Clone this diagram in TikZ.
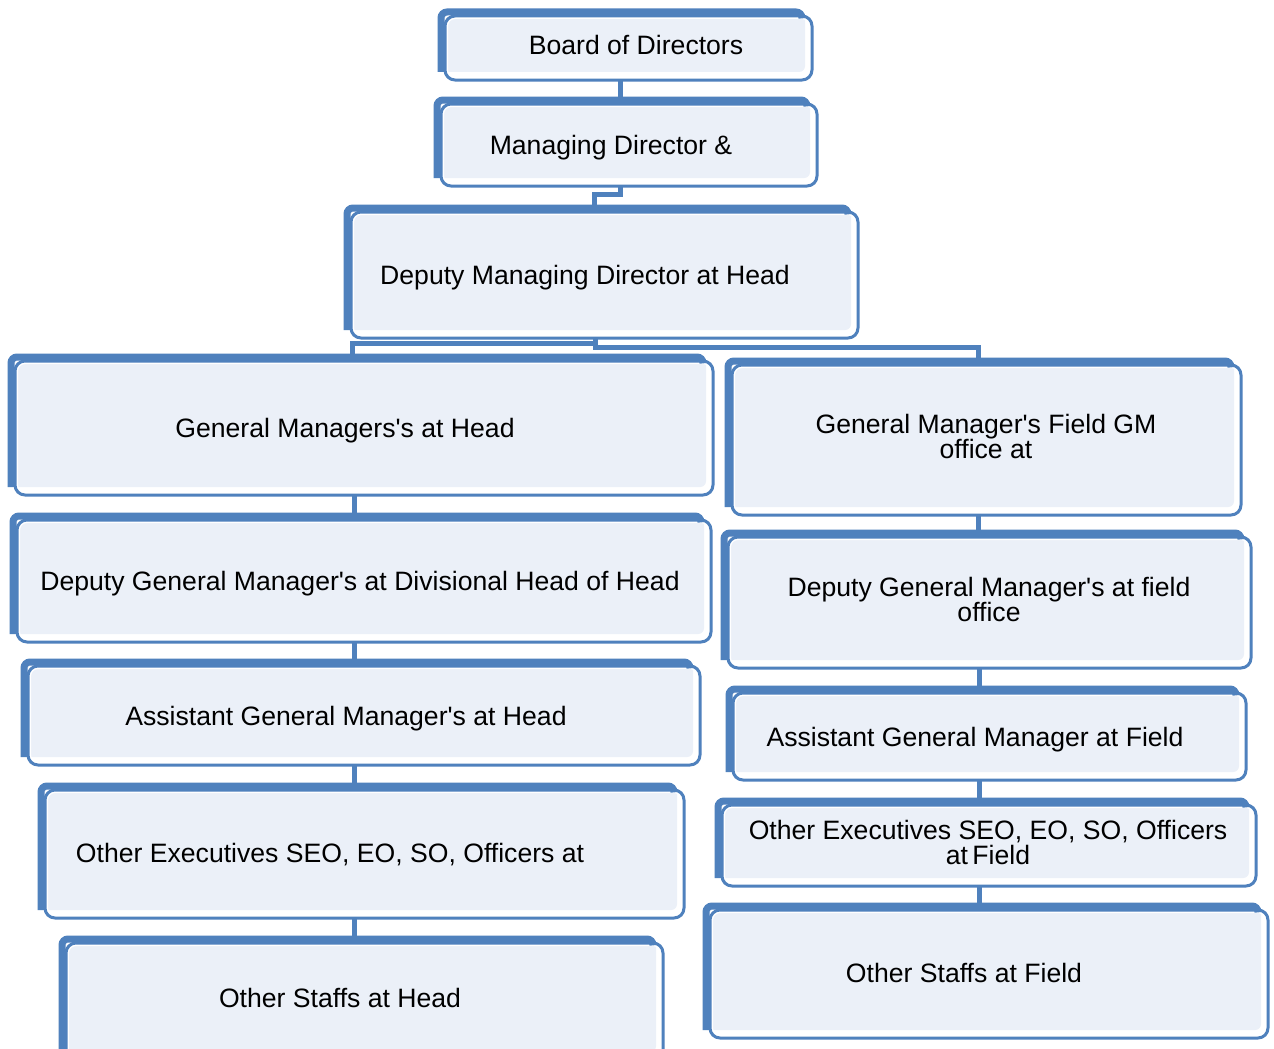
\documentclass[tikz,border=0pt]{standalone}
\usepackage{fontspec}
\setmainfont{Liberation Sans}
\usetikzlibrary{calc,fit}
\definecolor{boxblue}{RGB}{79,129,189}
\definecolor{boxfill}{RGB}{235,240,248}
\newcommand\ap{\textquotesingle}
\tikzset{
  conn/.style={draw=boxblue, line width=5},
  txt/.style={inner sep=0, align=center, font=\fontsize{26.6}{25}\selectfont, text=black},
  ltxt/.style={txt, anchor=base},
  boxarea/.style={inner sep=0, draw=none}
}
% name, x1, y1, x2, y2
\newcommand\orgbox[5]{%
  \fill[boxfill, rounded corners=6] (#2,#3) rectangle ({#4-7},{#5-8});
  \draw[white, line width=6, rounded corners=10] ({#2+4},{#3+4}) rectangle (#4,#5);
  \draw[boxblue, line width=7, rounded corners=6] (#2,{#5-8}) -- (#2,#3) -- ({#4-10},#3) -- ({#4-10},{#3+4});
  \draw[boxblue, line width=3, rounded corners=10] ({#2+4},{#3+4}) rectangle (#4,#5);
  \coordinate (#1-nw) at (#2,#3);
  \coordinate (#1-se) at (#4,#5);
  \node[boxarea, fit=(#1-nw)(#1-se)] (#1) {};
}
\begin{document}
\begin{tikzpicture}[x=1pt, y=-1pt]
\clip (0,0) rectangle (1274,1049);
\fill[white] (0,0) rectangle (1274,1049);

\orgbox{bod}{441}{12}{812}{80}
\node[ltxt] (bod-t) at (636,54.5) {Board of Directors};
\orgbox{md}{437}{100}{817}{186}
\node[ltxt] (md-t) at (611,154.5) {Managing Director \&};
\orgbox{dmd}{347}{208}{858}{338}
\node[ltxt] (dmd-t) at (585,284.5) {Deputy Managing Director at Head};

\orgbox{gmh}{11}{357}{713}{495}
\node[ltxt] (gmh-t) at (345,437.5) {General Managers\ap s at Head};
\orgbox{gmf}{728}{361}{1241}{515}
\node[txt] (gmf-t) at (986,436) {General Manager\ap s Field GM\\office at};

\orgbox{dgmh}{13}{516}{711}{642}
\node[ltxt] (dgmh-t) at (360,590.5) {Deputy General Manager\ap s at Divisional Head of Head};
\orgbox{dgmf}{724}{533}{1251}{668}
\node[txt] (dgmf-t) at (989,599) {Deputy General Manager\ap s at field\\office};

\orgbox{agmh}{24}{662}{700}{765}
\node[ltxt] (agmh-t) at (346,725.5) {Assistant General Manager\ap s at Head};
\orgbox{agmf}{729}{689}{1246}{780}
\node[ltxt] (agmf-t) at (975,746.5) {Assistant General Manager at Field};

\orgbox{oeh}{41}{786}{684}{918}
\node[ltxt] (oeh-t) at (330,862.5) {Other Executives SEO, EO, SO, Officers at};
\orgbox{oef}{718}{801}{1256}{886}
\node[txt] (oef-t) at (988,842) {Other Executives SEO, EO, SO, Officers\\at\,Field};

\orgbox{osh}{62}{939}{663}{1060}
\node[ltxt] (osh-t) at (340,1007.5) {Other Staffs at Head};
\orgbox{osf}{706}{906}{1268}{1038}
\node[ltxt] (osf-t) at (964,982.5) {Other Staffs at Field};

% connectors
\draw[conn] (bod.south -| 620,0) -- (md.north -| 620,0);
\draw[conn] (md.south -| 620,0) |- (594,194) -- (dmd.north -| 594,0);
\draw[conn] (dmd.south -| 595,0) |- (352,343) -- (gmh.north -| 352,0);
\draw[conn] (dmd.south -| 595,0) |- (978,347) -- (gmf.north -| 978,0);
\draw[conn] (gmh.south -| 354,0) -- (dgmh.north -| 354,0);
\draw[conn] (dgmh.south -| 354,0) -- (agmh.north -| 354,0);
\draw[conn] (agmh.south -| 354,0) -- (oeh.north -| 354,0);
\draw[conn] (oeh.south -| 354,0) -- (osh.north -| 354,0);
\draw[conn] (gmf.south -| 978,0) -- (dgmf.north -| 978,0);
\draw[conn] (dgmf.south -| 979,0) -- (agmf.north -| 979,0);
\draw[conn] (agmf.south -| 979,0) -- (oef.north -| 979,0);
\draw[conn] (oef.south -| 979,0) -- (osf.north -| 979,0);
\end{tikzpicture}
\end{document}
